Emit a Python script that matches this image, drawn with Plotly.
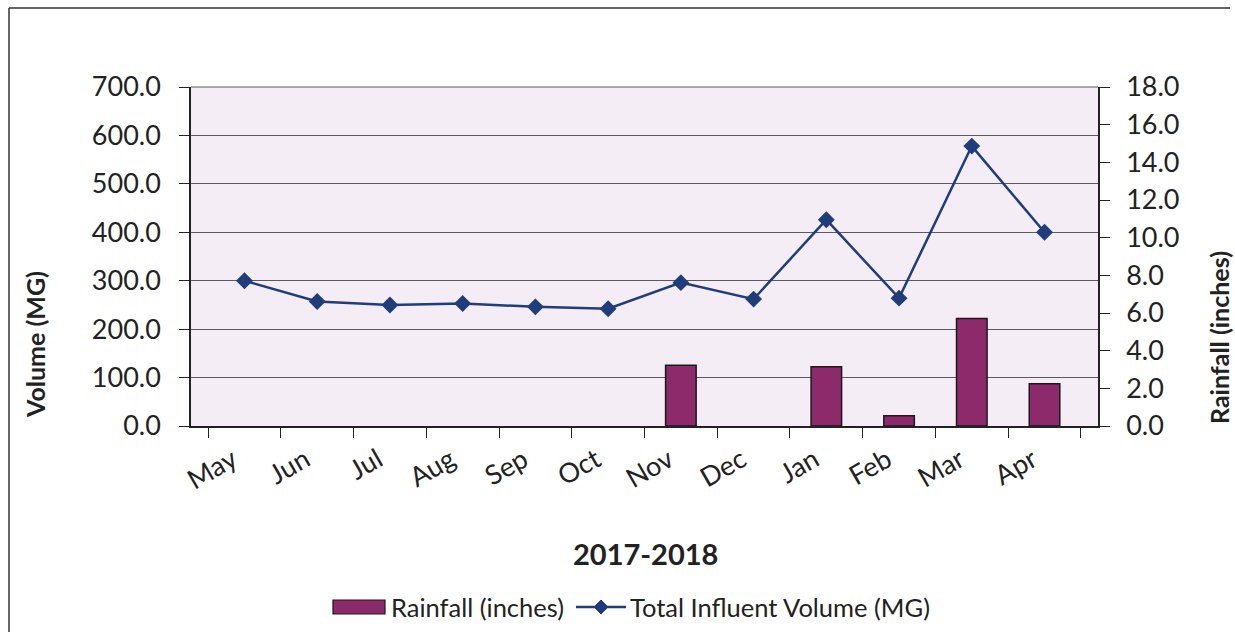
import plotly.graph_objects as go

months = ["May", "Jun", "Jul", "Aug", "Sep", "Oct", "Nov", "Dec", "Jan", "Feb", "Mar", "Apr"]
rainfall_in = [0, 0, 0, 0, 0, 0, 3.23, 0, 3.14, 0.55, 5.71, 2.25]
influent_mg = [300, 257, 250, 253, 246, 242, 296, 262, 426, 264, 578, 400]

left_ticks = [0, 100, 200, 300, 400, 500, 600, 700]
right_ticks = [0, 2, 4, 6, 8, 10, 12, 14, 16, 18]

FONT = "Lato, Calibri, Carlito, sans-serif"
TXT = "#222222"
BAR_COLOR = "#8c2a6c"
LINE_COLOR = "#1f3d7a"

# plot area in pixels, used to place the hand-drawn legend
L, R, T, B = 191, 1098, 87, 426
W, H = R - L, B - T


def px(x):
    return (x - L) / W


def py(y):
    return (B - y) / H


fig = go.Figure()

fig.add_trace(go.Bar(
    x=months, y=rainfall_in, name="Rainfall (inches)", yaxis="y2",
    marker=dict(color=BAR_COLOR,
                line=dict(color="#1a1a1a", width=[1.5 if v > 0 else 0 for v in rainfall_in])),
    width=0.42, showlegend=False,
))

fig.add_trace(go.Scatter(
    x=months, y=influent_mg, name="Total Influent Volume (MG)", yaxis="y",
    mode="lines+markers",
    line=dict(color=LINE_COLOR, width=2.5),
    marker=dict(symbol="diamond", size=13, color=LINE_COLOR),
    showlegend=False,
))

# legend: wide bar swatch + line-with-diamond swatch
leg_y = 607
shapes = [
    dict(type="rect", xref="paper", yref="paper",
         x0=px(333), x1=px(385), y0=py(614), y1=py(600),
         fillcolor=BAR_COLOR, line=dict(color="#1a1a1a", width=1.2)),
    dict(type="line", xref="paper", yref="paper",
         x0=px(576), x1=px(626), y0=py(leg_y), y1=py(leg_y),
         line=dict(color=LINE_COLOR, width=2.5)),
    dict(type="path", xref="paper", yref="paper",
         path=f"M {px(601)} {py(leg_y - 7)} L {px(608)} {py(leg_y)} L {px(601)} {py(leg_y + 7)} L {px(594)} {py(leg_y)} Z",
         fillcolor=LINE_COLOR, line=dict(color=LINE_COLOR, width=1)),
    # outer frame lines
    dict(type="line", xref="paper", yref="paper", x0=px(9), x1=px(9), y0=py(8), y1=py(632),
         line=dict(color="#333333", width=1.5)),
    dict(type="line", xref="paper", yref="paper", x0=px(9), x1=px(1230), y0=py(8), y1=py(8),
         line=dict(color="#333333", width=1.5)),
    dict(type="line", xref="paper", yref="paper", x0=0, x1=1, y0=1, y1=1,
         line=dict(color="#555555", width=1)),
]

annotations = [
    dict(text="Rainfall (inches)", xref="paper", yref="paper", x=px(389), y=py(leg_y),
         xanchor="left", yanchor="middle", showarrow=False, font=dict(size=25.5, color=TXT)),
    dict(text="Total Influent Volume (MG)", xref="paper", yref="paper", x=px(628), y=py(leg_y),
         xanchor="left", yanchor="middle", showarrow=False, font=dict(size=25.5, color=TXT)),
    dict(text="<b>2017-2018</b>", xref="paper", yref="paper", x=px(645), y=py(553),
         xanchor="center", yanchor="middle", showarrow=False, font=dict(size=29, color=TXT)),
    dict(text="<b>Volume (MG)</b>", xref="paper", yref="paper", x=px(35), y=py(345),
         xanchor="center", yanchor="middle", textangle=-90, showarrow=False,
         font=dict(size=25, color=TXT)),
    dict(text="<b>Rainfall (inches)</b>", xref="paper", yref="paper", x=px(1219), y=py(338),
         xanchor="center", yanchor="middle", textangle=-90, showarrow=False,
         font=dict(size=25, color=TXT)),
]

fig.update_layout(
    width=1235, height=636,
    margin=dict(l=L, r=1235 - R, t=T, b=636 - B),
    paper_bgcolor="white",
    plot_bgcolor="#f4edf5",
    font=dict(family=FONT, size=26, color=TXT),
    showlegend=False,
    xaxis=dict(
        type="category", showgrid=False, showline=True, linecolor="#222222", linewidth=1.5,
        ticks="outside", ticklen=10, tickcolor="#222222", tickson="boundaries",
        tickangle=-30, tickfont=dict(size=27), ticklabelshift=-12, ticklabelstandoff=6,
    ),
    yaxis=dict(
        range=[0, 700], tickvals=left_ticks, ticktext=[f"{v:.1f}" for v in left_ticks],
        showgrid=True, gridcolor="#5a5a5a", gridwidth=1,
        showline=True, linecolor="#222222", linewidth=1.5,
        ticks="outside", ticklen=10, tickcolor="#222222", zeroline=False,
        tickfont=dict(size=27), ticklabelstandoff=13,
    ),
    yaxis2=dict(
        range=[0, 18], tickvals=right_ticks, ticktext=[f"{v:.1f}" for v in right_ticks],
        overlaying="y", side="right", showgrid=False,
        showline=True, linecolor="#222222", linewidth=1.5,
        ticks="outside", ticklen=10, tickcolor="#222222", zeroline=False,
        tickfont=dict(size=27), ticklabelstandoff=11,
    ),
    shapes=shapes,
    annotations=annotations,
)

fig.write_html("out.html")
